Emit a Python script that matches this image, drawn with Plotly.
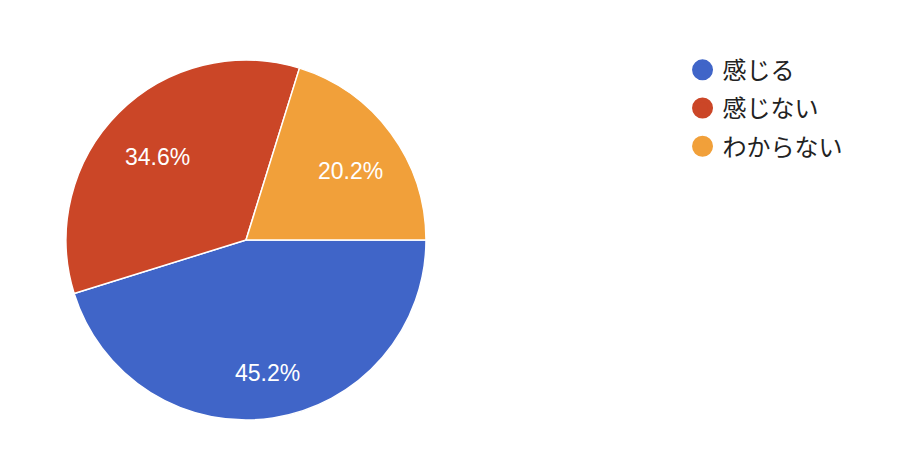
import math
import plotly.graph_objects as go

labels = ["感じる", "感じない", "わからない"]
values = [45.2, 34.6, 20.2]
colors = ["#4065C8", "#CB4627", "#F1A03A"]

W, H = 914, 462
cx, cy, R = 238, 232, 180  # pie domain centre in px (from left / from top) and radius
lx, ly = 240, 239          # label placement centre
label_frac = 0.71

fig = go.Figure()
fig.add_trace(go.Pie(
    labels=labels, values=values, sort=False, direction="clockwise", rotation=90,
    marker=dict(colors=colors, line=dict(color="white", width=1.5)),
    textinfo="none",
    showlegend=False, hoverinfo="label+percent",
    domain=dict(x=[(cx - R) / W, (cx + R) / W], y=[(H - cy - R) / H, (H - cy + R) / H]),
))
for i, (lab, col) in enumerate(zip(labels, colors)):
    fig.add_trace(go.Scatter(
        x=[None], y=[None], mode="markers", name=lab, legendgroup=f"g{i}",
        marker=dict(symbol="circle", size=16, color=col, line=dict(color=col, width=5)),
    ))

# percentage labels placed along each slice bisector
total = sum(values)
start = 0.0
for v in values:
    mid = (start + v / 2) / total * 2 * math.pi  # clockwise from 3 o'clock
    px = lx + label_frac * R * math.cos(mid)
    py = ly + label_frac * R * math.sin(mid)
    fig.add_annotation(
        x=px / W, y=1 - py / H, xref="paper", yref="paper",
        xanchor="center", yanchor="middle",
        text=f"{v / total * 100:.1f}%", showarrow=False,
        font=dict(family="Liberation Sans, Arial", size=23, color="white"),
    )
    start += v

fig.update_layout(
    width=W, height=H, margin=dict(l=0, r=0, t=0, b=0),
    paper_bgcolor="white", plot_bgcolor="white",
    xaxis=dict(visible=False), yaxis=dict(visible=False),
    legend=dict(x=0.738, y=0.914, xanchor="left", yanchor="top",
                font=dict(family="Noto Sans CJK JP", size=24, color="#222222"),
                itemsizing="trace", tracegroupgap=4, itemwidth=30),
)
fig.write_html("out.html")
